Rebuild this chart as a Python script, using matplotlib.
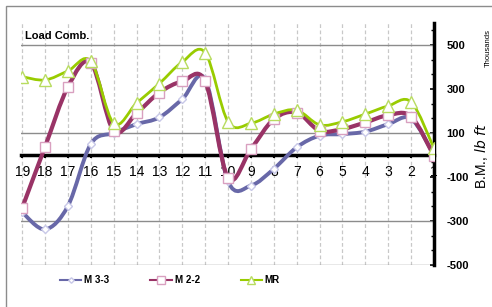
import matplotlib
matplotlib.use("Agg")
import matplotlib.pyplot as plt
from matplotlib.path import Path
from matplotlib.patches import PathPatch, Rectangle
from matplotlib.lines import Line2D
import numpy as np

plt.rcParams['font.family'] = ['Liberation Sans', 'DejaVu Sans']

categories = ["19", "18", "17", "16", "15", "14", "13", "12", "11", "10",
              "9", "8", "7", "6", "5", "4", "3", "2", "1"]
m33 = [-260, -338, -232, 50, 100, 140, 171, 254, 344, -120,
       -139, -63, 35, 88, 95, 106, 140, 165, 0]
m22 = [-241, 37, 309, 420, 110, 190, 284, 335, 335, -104,
       27, 163, 193, 110, 118, 148, 181, 175, -5]
mr = [356, 341, 382, 427, 144, 236, 325, 423, 465, 151,
      144, 186, 204, 137, 151, 186, 223, 241, 30]
y_ticks = [-500, -300, -100, 100, 300, 500]
grid_vals = [500, 100, -300, -500]

W, H = 492, 307
fig = plt.figure(figsize=(W / 100, H / 100), dpi=100)
fig.patches.append(Rectangle((6 / W, -0.1), 1.2, 1.1 - 6 / H + 0.0,
                             transform=fig.transFigure, fill=False,
                             edgecolor='#8c8c8c', lw=1.0))
ax = fig.add_axes([21 / W, (H - 265) / H, (434 - 21) / W, (265 - 23) / H])

x = np.arange(len(categories))


def smooth_path(xs, ys):
    pts = np.column_stack([xs, ys]).astype(float)
    n = len(pts)
    verts = [pts[0]]
    codes = [Path.MOVETO]
    for i in range(n - 1):
        p0 = pts[i - 1] if i > 0 else pts[i]
        p1 = pts[i]
        p2 = pts[i + 1]
        p3 = pts[i + 2] if i + 2 < n else pts[i + 1]
        c1 = p1 + (p2 - p0) / 6.0
        c2 = p2 - (p3 - p1) / 6.0
        verts += [c1, c2, p2]
        codes += [Path.CURVE4] * 3
    return Path(verts, codes)


series = [
    (m33, '#6868a8', 2.8, 'D', 4, '#c8c8e8', 'M3-3'),
    (m22, '#993366', 3.0, 's', 7.5, '#d9a0c0', 'M2-2'),
    (mr, '#99cc00', 2.0, '^', 8, '#b8dc60', 'MR'),
]

for vals, col, lw, mk, ms, mec, lab in series:
    ax.add_patch(PathPatch(smooth_path(x, vals), facecolor='none',
                           edgecolor=col, lw=lw, zorder=3,
                           capstyle='round', joinstyle='round'))
for vals, col, lw, mk, ms, mec, lab in series:
    ax.plot(x, vals, linestyle='none', marker=mk, markersize=ms,
            markerfacecolor='white', markeredgecolor=mec,
            markeredgewidth=1.0, zorder=4)

for gv in grid_vals:
    ax.axhline(gv, color='#8c8c8c', lw=1.0, zorder=1)

ax.set_xlim(-0.05, 18.0)
ax.set_ylim(-500, 600)

ax.set_xticks(x)
ax.set_xticklabels(categories, fontsize=8, fontweight='bold')
ax.grid(axis='x', color='#c8c8c8', linestyle=(0, (3, 2)), lw=0.9)
ax.set_axisbelow(True)

ax.spines['top'].set_visible(False)
ax.spines['left'].set_visible(False)
ax.spines['bottom'].set_position(('data', 0))
ax.spines['bottom'].set_linewidth(2.5)
ax.spines['bottom'].set_color('black')
ax.spines['bottom'].set_zorder(2)
ax.spines['right'].set_linewidth(2.5)
ax.spines['right'].set_color('black')
ax.tick_params(axis='x', direction='out', length=2.5, width=1.5,
               pad=5, colors='black')

ax.yaxis.tick_right()
ax.set_yticks(y_ticks)
ax.set_yticklabels([str(v) for v in y_ticks], fontsize=8, fontweight='bold')
ax.set_yticks(np.arange(-500, 601, 200 / 3.0), minor=True)
ax.tick_params(axis='y', which='major', direction='in', length=3,
               width=1.2, pad=9)
ax.tick_params(axis='y', which='minor', direction='in', length=2, width=1)

fig.text(25 / W, 1 - 36 / H, 'Load Comb.', fontsize=8, fontweight='bold',
         ha='left', va='center')
fig.text(482 / W, 1 - 156 / H, 'B.M., $\\mathit{lb\\ ft}$', fontsize=10,
         rotation=90, ha='center', va='center')
fig.text(488 / W, 1 - 48 / H, 'Thousands', fontsize=5.5,
         rotation=90, ha='center', va='center')

handles = [Line2D([], [], color=col, lw=1.5, marker=mk,
                  markersize=ms * 0.7, markerfacecolor='white',
                  markeredgecolor=mec)
           for vals, col, lw, mk, ms, mec, lab in series]
labels = ['M 3-3', 'M 2-2', 'MR']
leg = fig.legend(handles, labels, loc='center', ncol=3,
                 bbox_to_anchor=(170 / W, 1 - 280 / H), frameon=False,
                 handlelength=2.2, handletextpad=0.3, columnspacing=4.2,
                 prop={'size': 7, 'weight': 'bold'})

fig.savefig('out.png', dpi=100)
